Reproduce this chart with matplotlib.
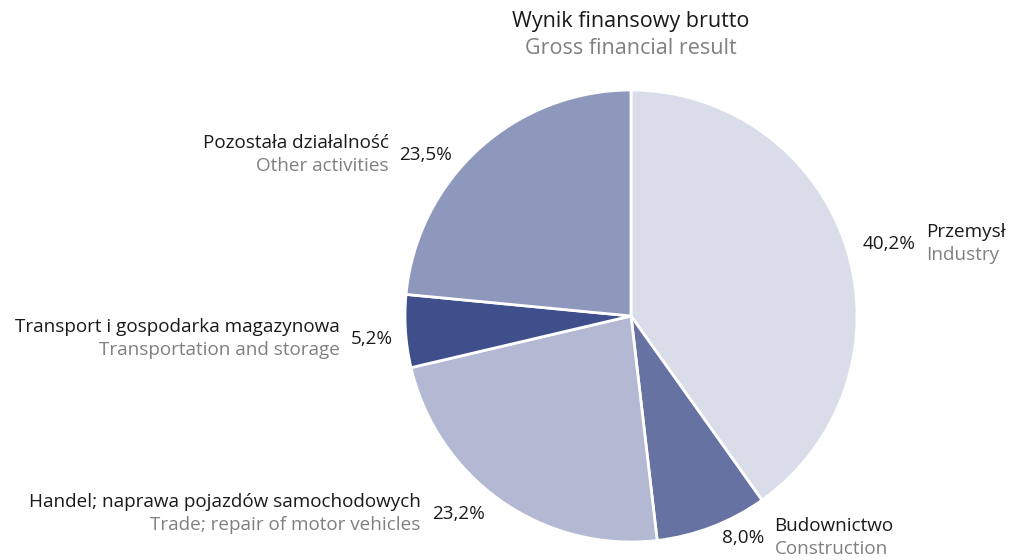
import numpy as np
import matplotlib
matplotlib.use("Agg")
import matplotlib.pyplot as plt

plt.rcParams['font.family'] = ['Open Sans', 'DejaVu Sans']

# dane
labels_pl = ["Przemysł", "Budownictwo", "Handel; naprawa pojazdów samochodowych",
             "Transport i gospodarka magazynowa", "Pozostała działalność"]
labels_en = ["Industry", "Construction", "Trade; repair of motor vehicles",
             "Transportation and storage", "Other activities"]
values = [40.2, 8.0, 23.2, 5.2, 23.5]
colors = ["#d9dce9", "#6672a1", "#b3b8d3", "#3f4f8b", "#8e98bc"]

# przesuniecia etykiet (piksele) wzgledem srodka wycinka
label_shift = [(6, 0), (6, -1), (-10, -4), (-1, -7), (-19, -15)]

W, H = 1009, 560
fig = plt.figure(figsize=(W / 100, H / 100), dpi=100)

# srodek i promien kola w pikselach
cx, cy, R = 631, 244, 226
ax = fig.add_axes([(cx - R) / W, (cy - R) / H, 2 * R / W, 2 * R / H])

wedges, _ = ax.pie(values, colors=colors, startangle=90, counterclock=False, radius=1,
                   wedgeprops=dict(edgecolor='white', linewidth=2))
ax.set_xlim(-1, 1)
ax.set_ylim(-1, 1)
ax.axis('off')

fig.text(cx / W, 1 - 22 / H, "Wynik finansowy brutto", ha='center', va='center',
         fontsize=15.5, color='#1a1a1a')
fig.text(cx / W, 1 - 48 / H, "Gross financial result", ha='center', va='center',
         fontsize=15.5, color='#808080')

fig.canvas.draw()
renderer = fig.canvas.get_renderer()

fs = 13.6
for w, v, pl, en, sh in zip(wedges, values, labels_pl, labels_en, label_shift):
    ang = np.deg2rad((w.theta1 + w.theta2) / 2)
    x = np.cos(ang) * 1.05
    y = np.sin(ang) * 1.05
    right = x > 0
    pct = ax.annotate(("%.1f%%" % v).replace(".", ","), xy=(x, y), xytext=sh,
                      textcoords='offset pixels', ha='left' if right else 'right',
                      va='center', fontsize=fs, color='#1a1a1a', annotation_clip=False)
    bb = pct.get_window_extent(renderer)
    py = (bb.y0 + bb.y1) / 2
    if right:
        nx = bb.x1 + 10
        ha = 'left'
    else:
        nx = bb.x0 - 11
        ha = 'right'
    fig.text(nx / W, (py + 12) / H, pl, ha=ha, va='center', fontsize=fs, color='#1a1a1a')
    fig.text(nx / W, (py - 11) / H, en, ha=ha, va='center', fontsize=fs, color='#808080')

fig.savefig("out.png", dpi=100, facecolor='white')
